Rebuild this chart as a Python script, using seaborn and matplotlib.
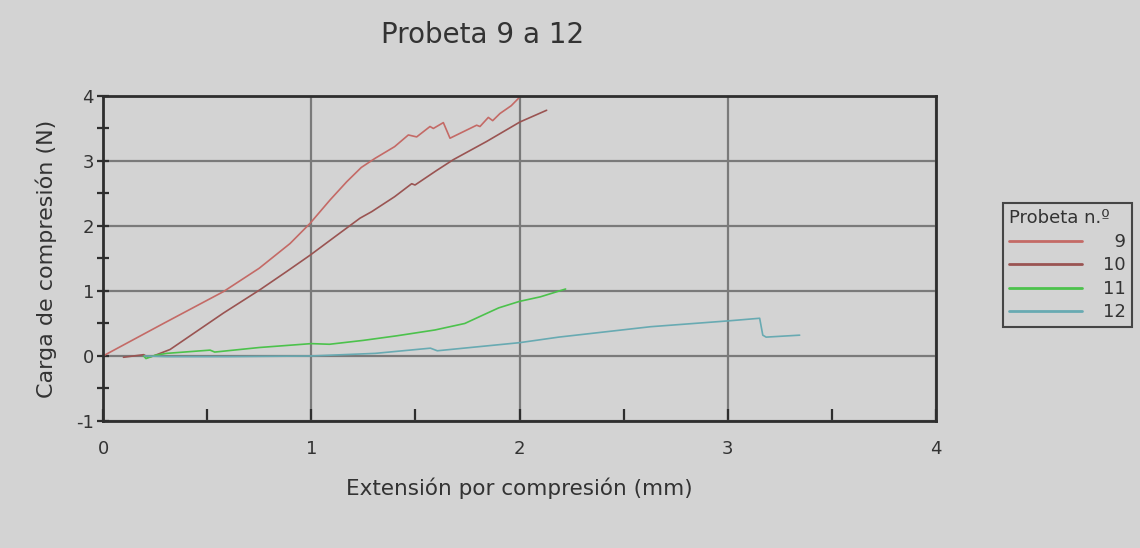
import numpy as np
import pandas as pd
import matplotlib
matplotlib.use("Agg")
import matplotlib.pyplot as plt
from matplotlib.ticker import MultipleLocator
import seaborn as sns

# Extension (mm) and load (N) for each specimen
x9 = [0.0, 0.29, 0.578, 0.75, 0.898, 0.994, 1.09, 1.17, 1.24, 1.306, 1.40, 1.466, 1.506, 1.570, 1.586, 1.634, 1.666, 1.73, 1.794, 1.81, 1.850, 1.871, 1.906, 1.96, 2.0]
y9 = [0.0, 0.50, 0.99, 1.35, 1.73, 2.04, 2.40, 2.68, 2.90, 3.04, 3.22, 3.40, 3.37, 3.53, 3.50, 3.59, 3.35, 3.45, 3.55, 3.53, 3.67, 3.62, 3.73, 3.85, 3.98]

x10 = [0.098, 0.195, 0.216, 0.242, 0.322, 0.45, 0.578, 0.754, 0.882, 0.994, 1.12, 1.234, 1.29, 1.40, 1.482, 1.498, 1.60, 1.682, 1.842, 2.002, 2.13]
y10 = [-0.02, 0.02, -0.02, 0.0, 0.10, 0.38, 0.66, 1.02, 1.30, 1.55, 1.85, 2.12, 2.22, 2.45, 2.65, 2.63, 2.85, 3.02, 3.30, 3.60, 3.78]

x11 = [0.195, 0.206, 0.25, 0.305, 0.514, 0.536, 0.75, 1.0, 1.087, 1.25, 1.41, 1.594, 1.737, 1.825, 1.90, 2.0, 2.10, 2.221]
y11 = [0.0, -0.04, 0.01, 0.04, 0.09, 0.06, 0.13, 0.19, 0.18, 0.24, 0.31, 0.40, 0.50, 0.63, 0.74, 0.84, 0.91, 1.03]

x12 = [0.20, 0.305, 0.6, 1.0, 1.307, 1.572, 1.605, 2.001, 2.188, 2.629, 3.003, 3.153, 3.168, 3.184, 3.345]
y12 = [0.0, -0.01, -0.01, 0.0, 0.04, 0.12, 0.08, 0.205, 0.29, 0.45, 0.54, 0.58, 0.32, 0.29, 0.32]

specimens = ["9", "10", "11", "12"]
colors = ["#c46a66", "#9a5452", "#4cc24c", "#68aab2"]

frames = []
for name, xs, ys in zip(specimens, [x9, x10, x11, x12], [y9, y10, y11, y12]):
    frames.append(pd.DataFrame({"ext": xs, "load": ys, "probeta": name,
                                "order": np.arange(len(xs))}))
df = pd.concat(frames, ignore_index=True)

bg = "#d3d3d3"
txt = "#333333"
sns.set_theme(style="white", rc={"axes.facecolor": bg, "figure.facecolor": bg})
plt.rcParams["font.family"] = ["DejaVu Sans"]
plt.rcParams["axes.unicode_minus"] = False

fig = plt.figure(figsize=(11.4, 5.48), dpi=100)
ax = fig.add_axes([0.0904, 0.2318, 0.7307, 0.5931])

sns.lineplot(data=df, x="ext", y="load", hue="probeta", units="probeta",
             estimator=None, sort=False, palette=dict(zip(specimens, colors)),
             linewidth=1.2, ax=ax, legend=False)

ax.set_xlim(0, 4)
ax.set_ylim(-1, 4)
ax.xaxis.set_major_locator(MultipleLocator(1))
ax.xaxis.set_minor_locator(MultipleLocator(0.5))
ax.yaxis.set_major_locator(MultipleLocator(1))
ax.yaxis.set_minor_locator(MultipleLocator(0.5))
ax.grid(True, which="major", color="#7a7a7a", linewidth=1.6)
ax.set_axisbelow(True)
for s in ax.spines.values():
    s.set_color("#2e2e2e")
    s.set_linewidth(2.0)

ax.tick_params(axis="x", which="both", direction="in", length=9, width=1.6,
               color="#2e2e2e", labelsize=13, labelcolor=txt, pad=14, bottom=True)
ax.tick_params(axis="y", which="both", direction="inout", length=9, width=1.6,
               color="#2e2e2e", labelsize=13, labelcolor=txt, pad=2, left=True)

ax.set_xlabel("Extensión por compresión (mm)", fontsize=15.5, color=txt, labelpad=14)
ax.set_ylabel("Carga de compresión (N)", fontsize=16, color=txt, labelpad=14)
fig.text(0.423, 0.936, "Probeta 9 a 12", fontsize=20, color=txt, ha="center", va="center")

handles = [plt.Line2D([], [], color=c, linewidth=2) for c in colors]
labels = ["\u2007" * (2 - len(s)) + s for s in specimens]
leg = fig.legend(handles, labels, title="Probeta n.º", loc="upper left",
                 bbox_to_anchor=(0.8798, 0.6295), borderaxespad=0,
                 fontsize=13, title_fontsize=13,
                 handlelength=4.0, handletextpad=1.2, labelspacing=0.3,
                 borderpad=0.35, handleheight=0.6, frameon=True, fancybox=False,
                 facecolor=bg, edgecolor="#222222", alignment="left")
leg.get_frame().set_linewidth(1.5)
for t in leg.get_texts():
    t.set_color(txt)
leg.get_title().set_color(txt)

fig.savefig("out.png", dpi=100, facecolor=bg)
